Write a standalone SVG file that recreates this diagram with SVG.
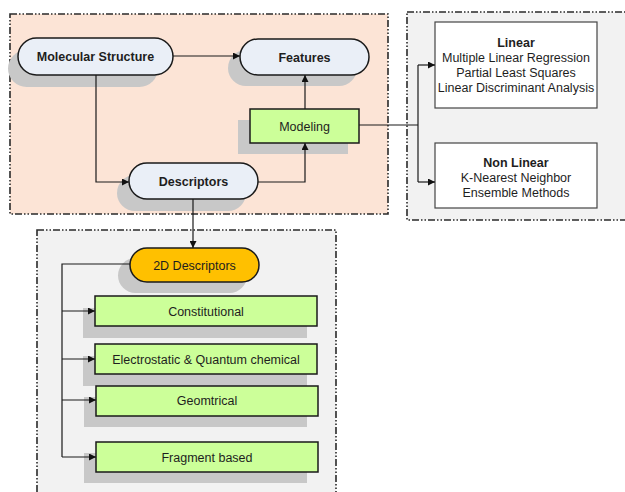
<svg xmlns="http://www.w3.org/2000/svg" width="625" height="492" viewBox="0 0 625 492">
<defs>
<marker id="ah" viewBox="0 0 10 10" refX="10" refY="5" markerWidth="7" markerHeight="7" orient="auto" markerUnits="userSpaceOnUse">
<path d="M0,0 L10,5 L0,10 z" fill="#111"/>
</marker>
<style>
.cont{stroke:#2a2a2a;stroke-width:1.6;stroke-dasharray:7 2 1.5 2 1.5 2}
.pill{fill:#eaeff7;stroke:#1a1a1a;stroke-width:1.5}
.gbox{fill:#ccff99;stroke:#1a1a1a;stroke-width:1.5}
.wbox{fill:#ffffff;stroke:#444;stroke-width:1.2}
.sh{fill:#c8c8c8}
.t{font-family:"Liberation Sans",Arial,sans-serif;font-size:12.5px;fill:#1e1e1e;text-anchor:middle}
.b{font-weight:bold}
.c{fill:none;stroke:#1a1a1a;stroke-width:1.2}
</style>
</defs>
<rect x="10" y="14" width="378" height="200" fill="#fce4d6" class="cont"/>
<rect x="407" y="12" width="230" height="208" fill="#f2f2f2" class="cont"/>
<rect x="37" y="230" width="299" height="280" fill="#f2f2f2" class="cont"/>

<g id="molecular-structure">
<rect class="sh" x="8" y="50" width="150" height="37" rx="18.5"/>
<rect class="pill" x="18" y="38" width="155" height="37" rx="18.5"/>
<text class="t b" x="95.5" y="61">Molecular Structure</text>
</g>
<g id="features">
<rect class="sh" x="228" y="50" width="129" height="36" rx="18"/>
<rect class="pill" x="240" y="39" width="129" height="36" rx="18"/>
<text class="t b" x="304.5" y="61.5">Features</text>
</g>
<g id="modeling">
<rect class="sh" x="238" y="120" width="110" height="34"/>
<rect class="gbox" x="250" y="109" width="109" height="34"/>
<text class="t" x="304.5" y="130.5">Modeling</text>
</g>
<g id="descriptors">
<rect class="sh" x="117" y="175" width="129" height="36" rx="18"/>
<rect class="pill" x="129" y="163" width="129" height="36" rx="18"/>
<text class="t b" x="193.5" y="185.5">Descriptors</text>
</g>
<g id="linear">
<rect class="wbox" x="435" y="22" width="162" height="86"/>
<text class="t b" x="516" y="47">Linear</text>
<text class="t" x="516" y="62">Multiple Linear Regression</text>
<text class="t" x="516" y="77">Partial Least Squares</text>
<text class="t" x="516" y="92">Linear Discriminant Analysis</text>
</g>
<g id="non-linear">
<rect class="wbox" x="435" y="143" width="162" height="65"/>
<text class="t b" x="516" y="167">Non Linear</text>
<text class="t" x="516" y="182">K-Nearest Neighbor</text>
<text class="t" x="516" y="197">Ensemble Methods</text>
</g>
<g id="d2-descriptors">
<rect class="sh" x="118" y="258" width="129" height="35" rx="17.5"/>
<rect x="130" y="248" width="129" height="34" rx="17" fill="#ffc000" stroke="#1a1a1a" stroke-width="1.5"/>
<text class="t" x="194.5" y="269.5">2D Descriptors</text>
</g>
<g id="constitutional">
<rect class="sh" x="83" y="308" width="224" height="30"/>
<rect class="gbox" x="95" y="296" width="222" height="30"/>
<text class="t" x="206" y="315.5">Constitutional</text>
</g>
<g id="electrostatic">
<rect class="sh" x="83" y="356" width="224" height="30"/>
<rect class="gbox" x="95" y="344" width="222" height="30"/>
<text class="t" x="206" y="363.5">Electrostatic &amp; Quantum chemical</text>
</g>
<g id="geomtrical">
<rect class="sh" x="84" y="397" width="223" height="30"/>
<rect class="gbox" x="96" y="386" width="222" height="30"/>
<text class="t" x="207" y="405">Geomtrical</text>
</g>
<g id="fragment-based">
<rect class="sh" x="84" y="453" width="223" height="30"/>
<rect class="gbox" x="96" y="442" width="222" height="30"/>
<text class="t" x="207" y="461.5">Fragment based</text>
</g>

<g id="connectors">
<path class="c" d="M173,56 H240" marker-end="url(#ah)"/>
<path class="c" d="M96,75 V182 H129" marker-end="url(#ah)"/>
<path class="c" d="M258,182 H305 V143" marker-end="url(#ah)"/>
<path class="c" d="M305,109 V75" marker-end="url(#ah)"/>
<path class="c" d="M359,125 H418"/>
<path class="c" d="M418,65 V182"/>
<path class="c" d="M418,65 H435" marker-end="url(#ah)"/>
<path class="c" d="M418,182 H435" marker-end="url(#ah)"/>
<path class="c" d="M193,199 V248" marker-end="url(#ah)"/>
<path class="c" d="M130,264 H62 V457"/>
<path class="c" d="M62,311 H95" marker-end="url(#ah)"/>
<path class="c" d="M62,359 H95" marker-end="url(#ah)"/>
<path class="c" d="M62,400 H96" marker-end="url(#ah)"/>
<path class="c" d="M62,457 H96" marker-end="url(#ah)"/>
</g>
</svg>
